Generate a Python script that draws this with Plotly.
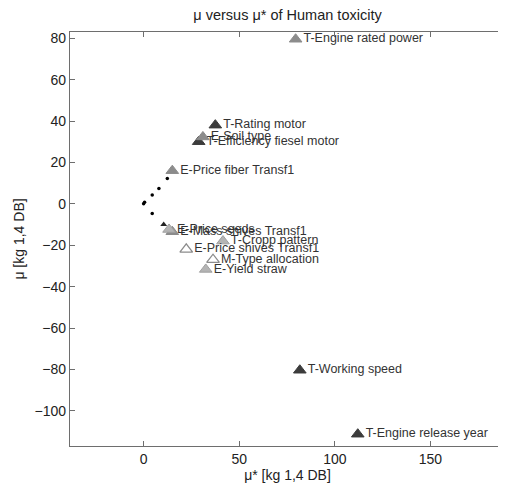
import plotly.graph_objects as go

# labelled factors: mu* (x), mu (y), marker style group
names = ["T-Engine rated power", "T-Rating motor", "E-Soil type", "T-Efficiency fiesel motor",
         "E-Price fiber Transf1", "E-Price seeds", "E-Mass shives Transf1", "T-Cropp pattern",
         "E-Price shives Transf1", "M-Type allocation", "E-Yield straw", "T-Working speed",
         "T-Engine release year"]
mu_star = [79.5, 37.5, 31, 28.8, 15, 13.3, 15, 41.5, 22.3, 36.3, 32.5, 81.7, 112]
mu = [79.5, 38, 32.3, 30, 16, -12.4, -13.5, -18, -22, -27, -31.7, -80.4, -111.3]
group = ["mid", "dark", "mid", "dark", "mid", "light", "mid", "light", "open", "open", "light",
         "dark", "dark"]

# unlabelled minor factors near zero
dot_x = [0, 0.5, 4.5, 8, 12.4, 4.5]
dot_y = [0, 0.8, 4.2, 7.4, 12.2, -4.7]
# small marker next to E-Price seeds
small_x = [10.5]
small_y = [-10]

styles = {
    "dark": dict(color="#3c3c3c", line=dict(color="#3c3c3c", width=1)),
    "mid": dict(color="#8c8c8c", line=dict(color="#8c8c8c", width=1)),
    "light": dict(color="#b4b4b4", line=dict(color="#a0a0a0", width=1)),
    "open": dict(color="white", line=dict(color="#8c8c8c", width=1.3)),
}

fig = go.Figure()
for g, st in styles.items():
    idx = [i for i, gg in enumerate(group) if gg == g]
    fig.add_trace(go.Scatter(
        x=[mu_star[i] for i in idx], y=[mu[i] for i in idx],
        text=[names[i] for i in idx],
        mode="markers+text", textposition="middle right",
        marker=dict(symbol="triangle-up", size=11, **st),
        textfont=dict(family="Liberation Sans, Arial", size=12.5, color="#333333"),
        showlegend=False, cliponaxis=False))

fig.add_trace(go.Scatter(x=dot_x, y=dot_y, mode="markers",
                         marker=dict(color="black", size=3.5), showlegend=False))
fig.add_trace(go.Scatter(x=small_x, y=small_y, mode="markers",
                         marker=dict(symbol="triangle-up", color="#222222", size=6),
                         showlegend=False))

axis_common = dict(showline=True, linecolor="#6e6e6e", linewidth=1.2, mirror="ticks",
                   ticks="inside", ticklen=5, tickcolor="#6e6e6e", showgrid=False,
                   zeroline=False, automargin=False, tickfont=dict(size=14, color="#222222"))

# page body adds an 8px offset, so the figure is sized to fill the rest of the window
fig.update_layout(
    width=498, height=490,
    margin=dict(l=62, r=1, t=24, b=52),
    paper_bgcolor="white", plot_bgcolor="white",
    font=dict(family="Liberation Sans, Arial", color="#222222"),
    title=dict(text="μ versus μ* of Human toxicity", xref="paper", x=0.5, xanchor="center",
               y=0.986, yanchor="middle", font=dict(size=14.5)),
    xaxis=dict(range=[-38.5, 189], tickvals=[0, 50, 100, 150],
               title=dict(text="μ* [kg 1,4 DB]", font=dict(size=14), standoff=4), **axis_common),
    yaxis=dict(range=[-117, 83], tickvals=list(range(-100, 81, 20)),
               title=dict(text="μ [kg 1,4 DB]", font=dict(size=14), standoff=6), **axis_common),
)

fig.write_html("out.html")
